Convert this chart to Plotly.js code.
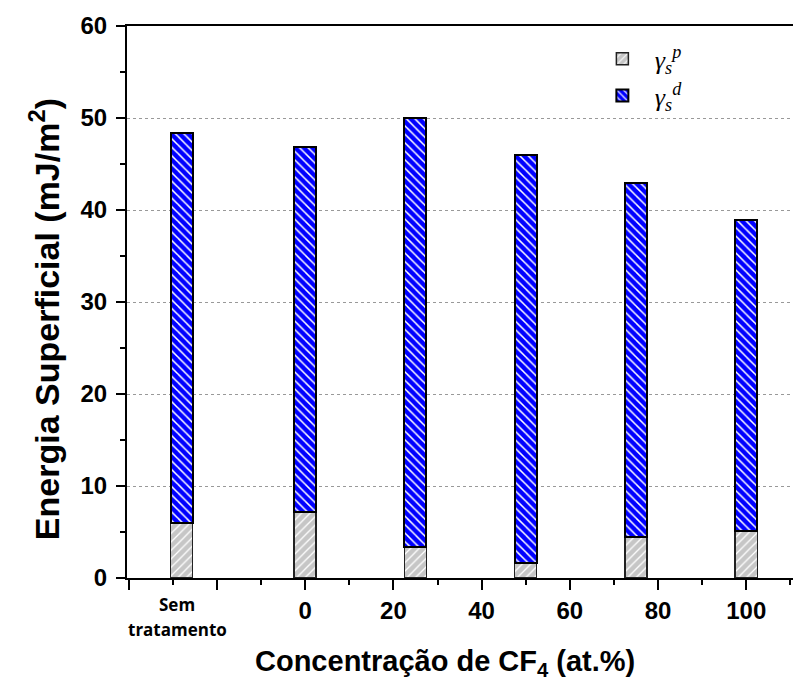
<!DOCTYPE html>
<html>
<head>
<meta charset="utf-8">
<script src="https://cdn.plot.ly/plotly-3.0.1.min.js"></script>
<style>html,body{margin:0;padding:0;background:#fff;}#chart{width:794px;height:688px;}</style>
</head>
<body>
<div id="chart"></div>
<script>
// Bar positions on the concentration axis (first = "Sem tratamento")
const positions = [-28, 0, 25, 50, 75, 100];
// Polar component (gray, bottom)
const gammaP = [6.0, 7.15, 3.4, 1.6, 4.5, 5.15];
// Dispersive component (blue, stacked on top)
const gammaD = [42.4, 39.65, 46.6, 44.4, 38.4, 33.75];
// Tick labels
const xTickVals = [-40, -20, 0, 20, 40, 60, 80, 100];
const xTickText = ["", "", "0", "20", "40", "60", "80", "100"];
const xMinorTicks = [-30, -10, 10, 30, 50, 70, 90, 110];
const untreatedLabelPos = -29;
const untreatedLabelLines = ["Sem", "tratamento"];
const yTickVals = [0, 10, 20, 30, 40, 50, 60];
const yTickText = ["0", "10", "20", "30", "40", "50", "60"];
const yTitle = 'Energia Superficial (mJ/m<sup>2</sup>)';
const xTitle = 'Concentração de CF<sub>4</sub> (at.%)';

const bold = s => s === "" ? "" : "<b>" + s + "</b>";

const traceP = {
  type: 'bar', x: positions, y: gammaP, width: 5,
  name: '<i>γ</i><sub><i>s</i></sub><sup><i>p</i></sup>',
  marker: {
    color: '#c6c6c6',
    line: {color: '#222', width: 1.5},
    pattern: {shape: '/', fgcolor: '#ffffff', bgcolor: '#c6c6c6', size: 6, solidity: 0.22}
  },
  hoverinfo: 'y'
};
const traceD = {
  type: 'bar', x: positions, y: gammaD, width: 5,
  name: '<i>γ</i><sub><i>s</i></sub><sup><i>d</i></sup>',
  marker: {
    color: '#0000ff',
    line: {color: '#000', width: 2},
    pattern: {shape: '\\', fgcolor: '#ffffff', bgcolor: '#0000ff', size: 6, solidity: 0.25}
  },
  hoverinfo: 'y'
};

const labelFont = {family: 'Open Sans, Noto Sans, sans-serif', size: 17, color: '#000'};
const annots = untreatedLabelLines.map((line, i) => ({
  x: untreatedLabelPos, xref: 'x', y: 0, yref: 'paper', yanchor: 'top', yshift: -13 - 25 * i,
  text: '<b>' + line + '</b>', showarrow: false, font: labelFont
}));
annots.push({
  x: -0.1246, xref: 'paper', y: 0.469, yref: 'paper', xanchor: 'center', yanchor: 'middle',
  textangle: -90, text: '<b>' + yTitle + '</b>', showarrow: false,
  font: {family: 'Liberation Sans', size: 34, color: '#000'}
});
annots.push({
  x: 0.4775, xref: 'paper', y: -0.154, yref: 'paper', xanchor: 'center', yanchor: 'middle',
  text: '<b>' + xTitle + '</b>', showarrow: false,
  font: {family: 'Liberation Sans', size: 29, color: '#000'}
});

const layout = {
  width: 794, height: 688,
  margin: {l: 127, r: 1, t: 26, b: 110},
  paper_bgcolor: '#fff', plot_bgcolor: '#fff',
  barmode: 'stack',
  showlegend: true,
  legend: {
    x: 0.695, y: 0.983, xanchor: 'left', yanchor: 'top',
    traceorder: 'normal', bgcolor: 'rgba(0,0,0,0)',
    font: {family: 'Liberation Serif, DejaVu Serif, serif', size: 26, color: '#000'},
    itemwidth: 55, tracegroupgap: 0
  },
  xaxis: {
    range: [-40.4, 110.6],
    tickmode: 'array', tickvals: xTickVals, ticktext: xTickText.map(bold),
    ticks: 'outside', ticklen: 10, tickwidth: 2, tickcolor: '#000',
    minor: {tickvals: xMinorTicks, ticks: 'outside', ticklen: 5, tickwidth: 2, tickcolor: '#000', showgrid: false},
    showline: true, linecolor: '#000', linewidth: 2, mirror: true,
    showgrid: false, zeroline: false,
    tickfont: {family: 'Liberation Sans', size: 24, color: '#000'}
  },
  yaxis: {
    range: [0, 60],
    tickmode: 'array', tickvals: yTickVals, ticktext: yTickText.map(bold),
    ticks: 'outside', ticklen: 9, tickwidth: 2, tickcolor: '#000',
    ticklabelstandoff: 4,
    minor: {dtick: 5, ticks: 'outside', ticklen: 5, tickwidth: 2, tickcolor: '#000', showgrid: false},
    showline: true, linecolor: '#000', linewidth: 2,
    showgrid: true, gridcolor: '#999', gridwidth: 1, griddash: 'dot',
    zeroline: false,
    tickfont: {family: 'Liberation Sans', size: 24, color: '#000'}
  },
  annotations: annots
};

Plotly.newPlot('chart', [traceP, traceD], layout, {displayModeBar: false, staticPlot: true});
</script>
</body>
</html>
